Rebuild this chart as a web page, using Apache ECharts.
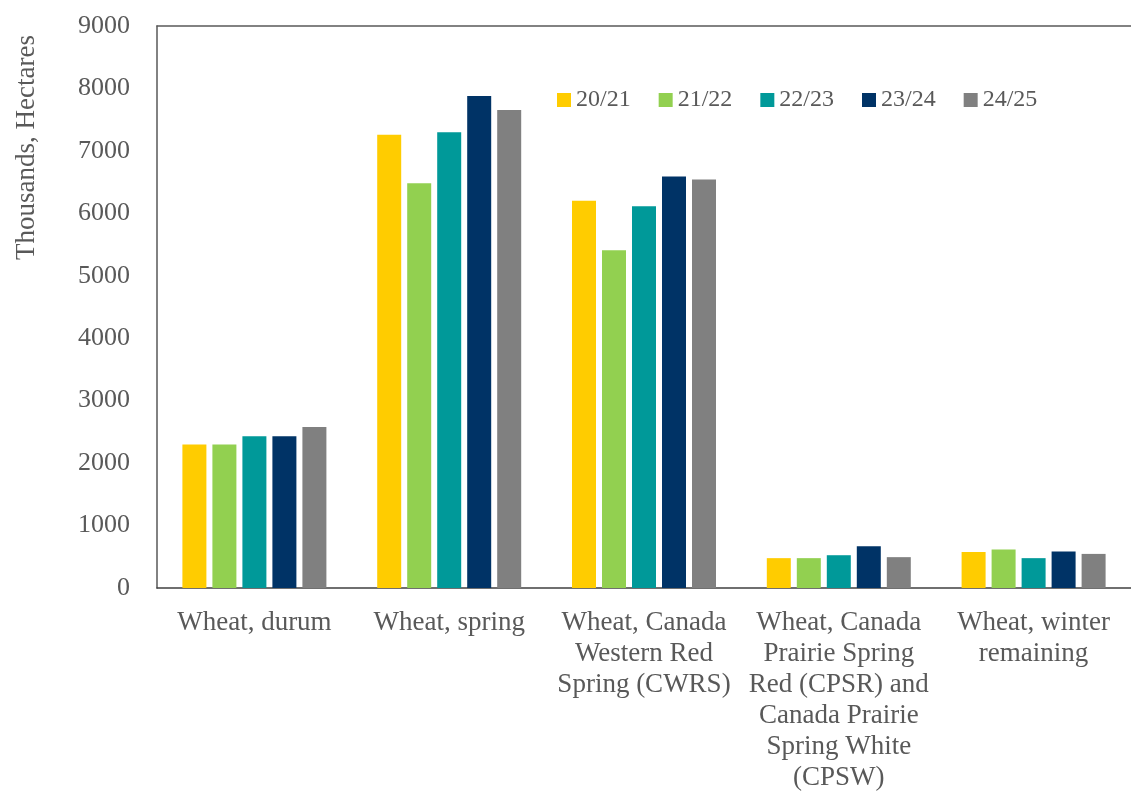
<!DOCTYPE html>
<html>
<head>
<meta charset="utf-8">
<script src="https://cdn.jsdelivr.net/npm/echarts@6/dist/echarts.min.js"></script>
<style>
  html, body { margin: 0; padding: 0; background: #fff; }
  #chart { width: 1131px; height: 793px; }
</style>
</head>
<body>
<div id="chart"></div>
<script>
const categories = [
  "Wheat, durum",
  "Wheat, spring",
  "Wheat, Canada\nWestern Red\nSpring (CWRS)",
  "Wheat, Canada\nPrairie Spring\nRed (CPSR) and\nCanada Prairie\nSpring White\n(CPSW)",
  "Wheat, winter\nremaining"
];
const seasons = ["20/21", "21/22", "22/23", "23/24", "24/25"];
const colors = ["#ffcc00", "#92d050", "#009999", "#003366", "#808080"];

const s2021 = [2300, 7260, 6200, 478, 578];
const s2122 = [2300, 6480, 5410, 478, 616];
const s2223 = [2430, 7300, 6115, 525, 478];
const s2324 = [2430, 7880, 6590, 669, 584];
const s2425 = [2580, 7655, 6540, 494, 546];
const yTicks = [0, 1000, 2000, 3000, 4000, 5000, 6000, 7000, 8000, 9000];

const seriesValues = [s2021, s2122, s2223, s2324, s2425];
const font = "Liberation Serif, Times New Roman, serif";
const textColor = "#595959";

const chart = echarts.init(document.getElementById("chart"));
chart.setOption({
  animation: false,
  color: colors,
  textStyle: { fontFamily: font },
  grid: { left: 157, right: 0, top: 26, bottom: 192, containLabel: false },
  legend: {
    left: 552,
    top: 83,
    itemWidth: 14,
    itemHeight: 14,
    itemGap: 28,
    icon: "rect",
    textStyle: { fontFamily: font, fontSize: 24, color: textColor },
    data: seasons
  },
  graphic: [{
    type: "text",
    left: 13,
    top: 35,
    rotation: Math.PI / 2,
    style: {
      text: "Thousands, Hectares",
      font: "27px " + font,
      fill: textColor
    }
  }],
  xAxis: [{
    type: "category",
    data: categories,
    axisLine: { lineStyle: { color: "#404040", width: 1.5 } },
    axisTick: { show: false },
    axisLabel: {
      interval: 0,
      margin: 19,
      fontFamily: font,
      fontSize: 27,
      lineHeight: 31,
      color: textColor
    }
  }, {
    type: "category",
    position: "top",
    data: categories,
    axisLine: { show: true, lineStyle: { color: "#595959", width: 1.5 } },
    axisTick: { show: false },
    axisLabel: { show: false }
  }],
  yAxis: {
    type: "value",
    min: yTicks[0],
    max: yTicks[yTicks.length - 1],
    interval: 1000,
    axisLine: { show: true, lineStyle: { color: "#595959", width: 1.5 } },
    axisTick: { show: false },
    splitLine: { show: false },
    axisLabel: {
      margin: 27,
      fontFamily: font,
      fontSize: 26,
      color: textColor,
      formatter: (v) => String(v)
    }
  },
  series: seasons.map((name, i) => ({
    name: name,
    type: "bar",
    data: seriesValues[i],
    barWidth: 24,
    barGap: "25%",
    itemStyle: { color: colors[i] }
  }))
});
</script>
</body>
</html>
